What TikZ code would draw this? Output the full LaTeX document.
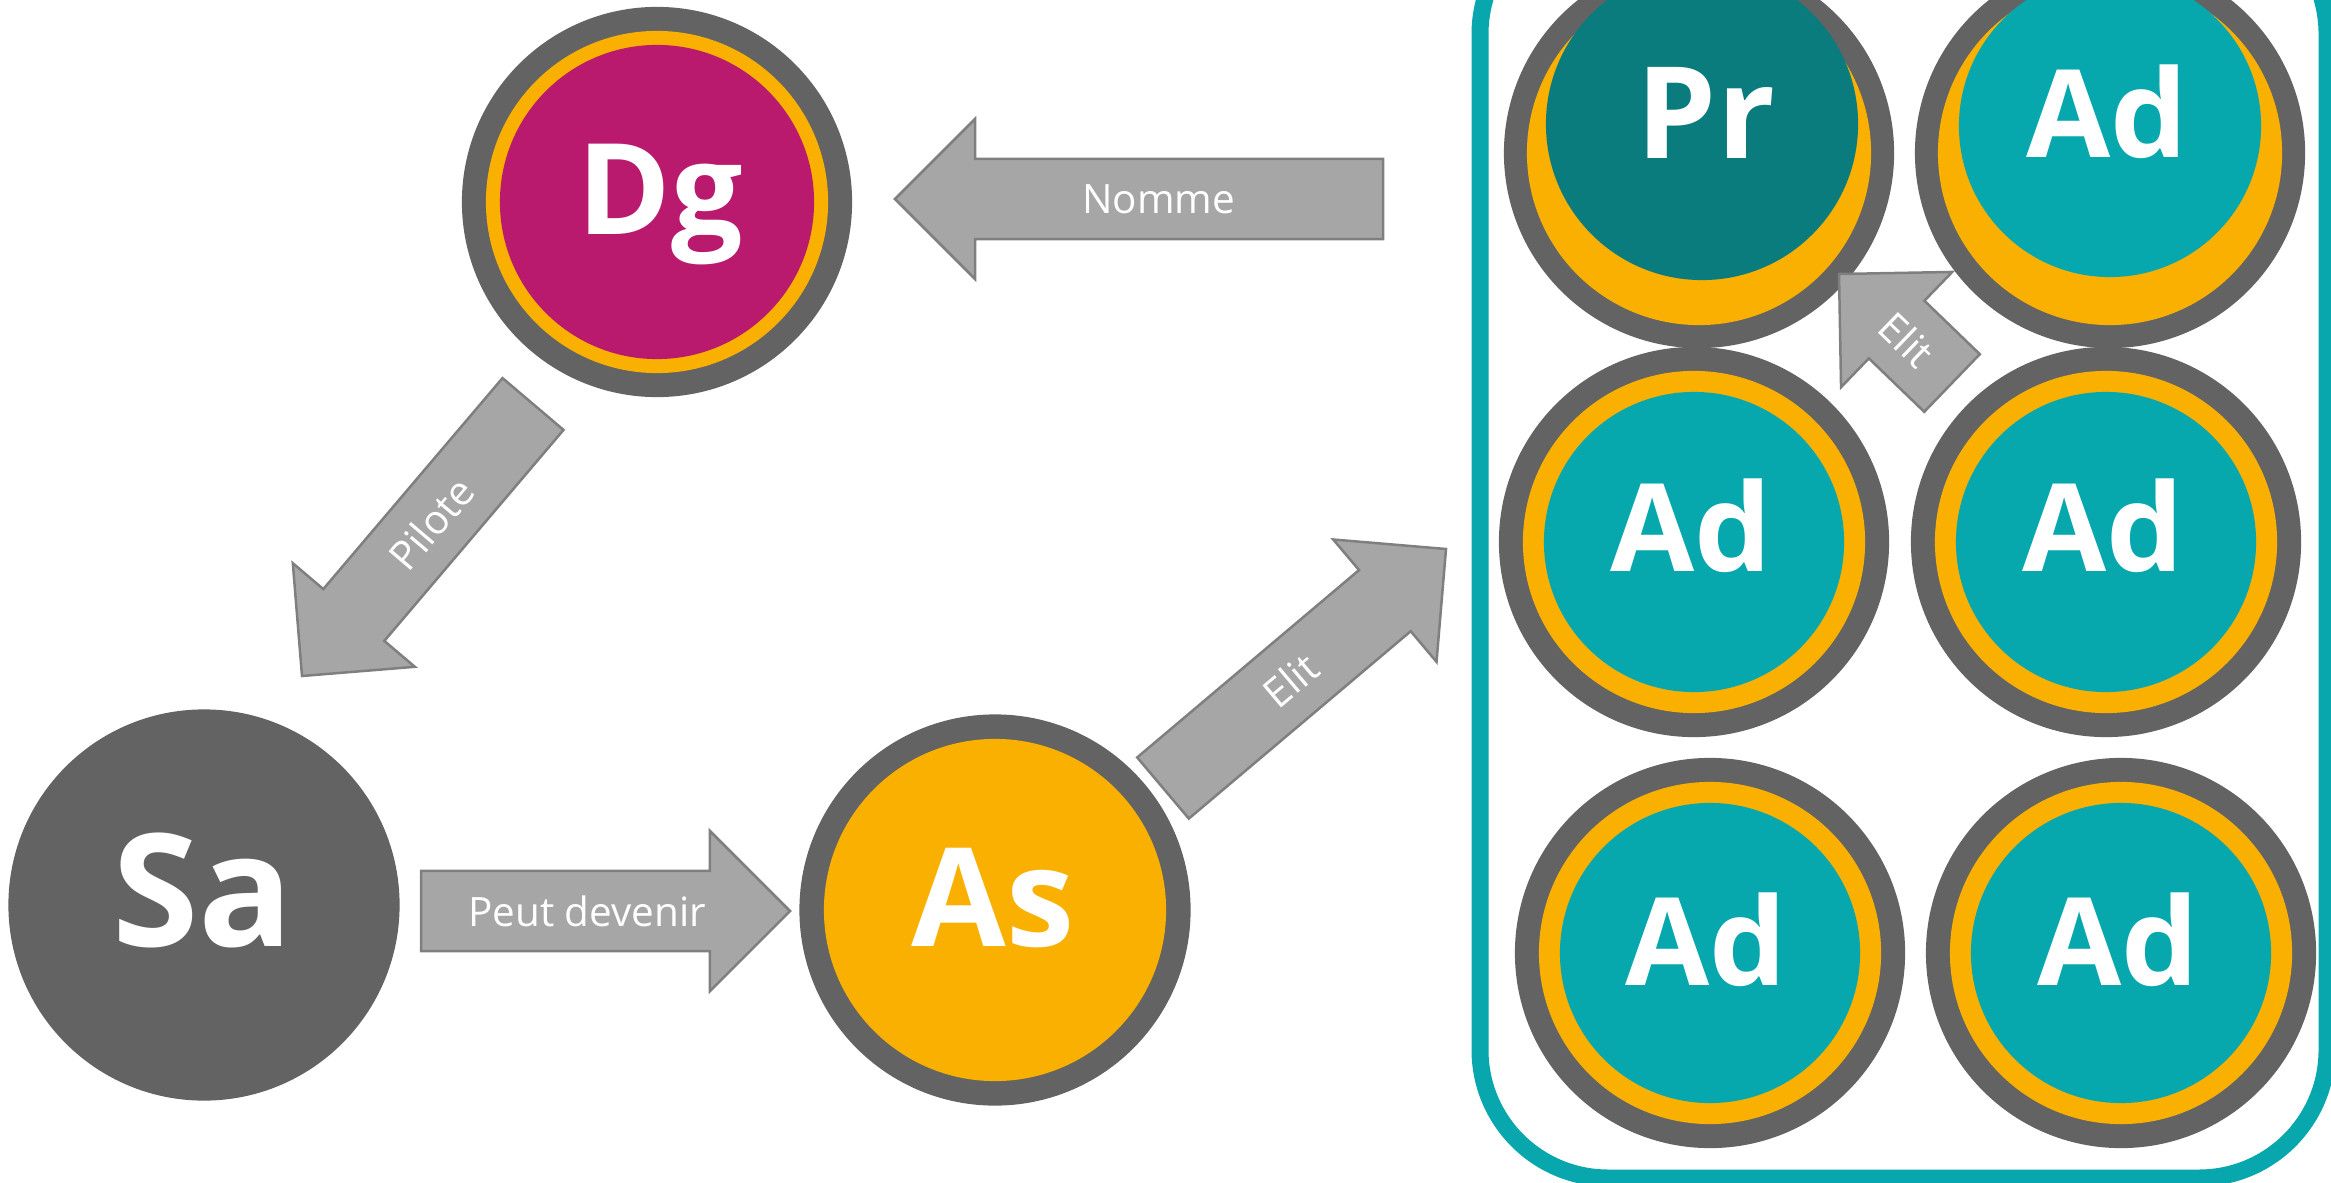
\documentclass[tikz,border=0pt]{standalone}
\usepackage{fontspec}
\setmainfont{Open Sans}
\usetikzlibrary{calc}
\definecolor{ringgray}{HTML}{636363}
\definecolor{ringorange}{HTML}{F9B000}
\definecolor{dgmagenta}{HTML}{B91A6D}
\definecolor{adteal}{HTML}{06A8AE}
\definecolor{prteal}{HTML}{0A7C7D}
\definecolor{boxteal}{HTML}{07A7AD}
\definecolor{arrowfill}{HTML}{A6A6A6}
\definecolor{arrowline}{HTML}{7F7F7F}
\tikzset{
  outerdisc/.style={circle, fill=ringgray, minimum size=3.9cm, inner sep=0pt, outer sep=0pt, draw=none},
  bigletters/.style={text=white, anchor=base, inner sep=0pt, font=\bfseries\fontsize{#1}{#1}\selectfont},
  arrowshape/.style={fill=arrowfill, draw=arrowline, line width=0.025cm, line join=miter},
  arrowlabel/.style={text=white, inner sep=0pt, font=\fontsize{11.5pt}{13pt}\selectfont},
  groupbox/.style={draw=boxteal, line width=0.17cm, rounded corners=1.28cm}
}
% tail, tip, pos, name, text
\newcommand\blockarrow[5]{%
  \coordinate (ba-h) at ($(#2)!0.8cm!(#1)$);
  \filldraw[arrowshape]
    ($(#1)!0.4cm!90:(#2)$) -- ($(ba-h)!0.4cm!90:(#2)$) -- ($(ba-h)!0.8cm!90:(#2)$)
    -- (#2) -- ($(ba-h)!0.8cm!-90:(#2)$) -- ($(ba-h)!0.4cm!-90:(#2)$)
    -- ($(#1)!0.4cm!-90:(#2)$) -- cycle;
  \path (#1) -- (#2) node[pos=#3, sloped, arrowlabel] (#4) {#5};
}
\begin{document}
\begin{tikzpicture}[x=0.01cm, y=-0.01cm]
\useasboundingbox (0,0) rectangle (2331,1182);
\clip (0,0) rectangle (2331,1182);

% group box
\draw[groupbox] (1480,-94) rectangle (2327,1178);

% Dg
\node[outerdisc] (dg) at (657,202) {};
\fill[ringorange] (dg.center) circle (1.71cm);
\fill[dgmagenta] (dg.center) circle (1.57cm);
\node[bigletters=36pt] (dgt) at (660,234) {Dg};

% Sa
\node[outerdisc, minimum size=3.91cm] (sa) at (204,905) {};
\node[bigletters=44.6pt] (sat) at (203,946) {Sa};

% As
\node[outerdisc, minimum size=3.91cm] (as) at (995,910) {};
\fill[ringorange] (as.center) circle (1.71cm);
\node[bigletters=39pt] (ast) at (993,946) {As};

% top row (Pr, Ad)
\node[outerdisc] (pr) at (1699,153) {};
\fill[ringorange] (pr.center) circle (1.72cm);
\fill[prteal] (1702,124) circle (1.56cm);
\node[bigletters=36.3pt] (prt) at (1706,159) {Pr};

\node[outerdisc] (ad1) at (2110,153) {};
\fill[ringorange] (ad1.center) circle (1.72cm);
\fill[adteal] (2110,126) circle (1.51cm);
\node[bigletters=34.7pt] (ad1t) at (2107,157) {Ad};

% middle row
\node[outerdisc] (ad2) at (1694,542) {};
\fill[ringorange] (ad2.center) circle (1.71cm);
\fill[adteal] (ad2.center) circle (1.50cm);
\node[bigletters=34.7pt] (ad2t) at (1691,571) {Ad};

\node[outerdisc] (ad3) at (2106,542) {};
\fill[ringorange] (ad3.center) circle (1.71cm);
\fill[adteal] (ad3.center) circle (1.50cm);
\node[bigletters=34.7pt] (ad3t) at (2103,571) {Ad};

% bottom row
\node[outerdisc] (ad4) at (1710,953) {};
\fill[ringorange] (ad4.center) circle (1.71cm);
\fill[adteal] (ad4.center) circle (1.50cm);
\node[bigletters=34.7pt] (ad4t) at (1706,985) {Ad};

\node[outerdisc] (ad5) at (2121,953) {};
\fill[ringorange] (ad5.center) circle (1.71cm);
\fill[adteal] (ad5.center) circle (1.50cm);
\node[bigletters=34.7pt] (ad5t) at (2118,985) {Ad};

% arrow end points
\coordinate (nomA) at (1383,199);
\coordinate (nomB) at (895,199);
\coordinate (pilA) at (533,404);
\coordinate (pilB) at (302,676);
\coordinate (pdA) at (421,911);
\coordinate (pdB) at (790,911);
\coordinate (elA) at (1163,788);
\coordinate (elB) at (1446,549);
\coordinate (esA) at (1952,383);
\coordinate (esB) at (1839,274);

\blockarrow{nomA}{nomB}{0.46}{lnomme}{Nomme}
\blockarrow{pilA}{pilB}{0.44}{lpilote}{Pilote}
\blockarrow{pdA}{pdB}{0.45}{lpeut}{Peut devenir}
\blockarrow{elA}{elB}{0.45}{lelit}{Elit}
\blockarrow{esA}{esB}{0.40}{lelits}{Elit}
\end{tikzpicture}
\end{document}
